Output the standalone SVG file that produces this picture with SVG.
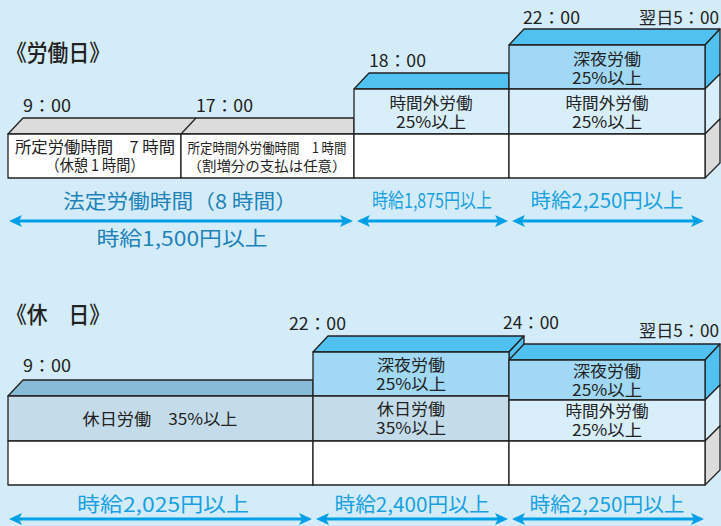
<svg xmlns="http://www.w3.org/2000/svg" width="721" height="526" viewBox="0 0 721 526">
<defs>
<style>
text{font-family:"Noto Sans CJK JP","Noto Sans",sans-serif;fill:#222}
.s{stroke:#222;stroke-width:1.3;stroke-linejoin:round}
.tb{fill:#50c1f0}
.fb{fill:#a0d8f5}
.fl{fill:#d8eefb}
.fw{fill:#fff}
.gr{fill:#dcdcdc}
.ht{fill:#87bad7}
.hf{fill:#c4dce9}
.tm{font-size:17px}
.ttl{font-size:23px;font-weight:500}
.c{text-anchor:middle}
.r{font-size:16px}
.a{stroke:#00a0e9;stroke-width:3;fill:none}
.lb{font-size:20px;fill:#18a0e2}
.ld{font-size:20px;fill:#1f82ba}
</style>
<marker id="ah" viewBox="0 0 13 12" markerWidth="13" markerHeight="12" refX="7" refY="6" markerUnits="userSpaceOnUse" orient="auto-start-reverse">
<path d="M0,0 L13,6 L0,12 L3,6 Z" fill="#00a0e9"/>
</marker>
</defs>
<rect width="721" height="526" fill="#d4ecf9"/>

<g id="title-workday"><text class="ttl" x="6" y="61" textLength="104" lengthAdjust="spacingAndGlyphs">《労働日》</text></g>

<g id="wd-block-0900">
<polygon class="s gr" points="8,134 23,118 354,118 354,134"/>
<line class="s" x1="181" y1="134" x2="196" y2="118"/>
<rect class="s fw" x="8" y="134" width="173" height="44"/>
<text class="c" style="font-size:15.5px"><tspan x="95" y="153" textLength="160" lengthAdjust="spacingAndGlyphs">所定労働時間　7 時間</tspan><tspan x="95" y="171" textLength="99" lengthAdjust="spacingAndGlyphs">（休憩 1 時間）</tspan></text>
<text class="tm" x="23" y="112" textLength="48" lengthAdjust="spacingAndGlyphs">9：00</text>
</g>

<g id="wd-block-1700">
<rect class="s fw" x="181" y="134" width="173" height="44"/>
<text class="c" style="font-size:14px"><tspan x="267" y="153" textLength="159" lengthAdjust="spacingAndGlyphs">所定時間外労働時間　1 時間</tspan><tspan x="267" y="171" textLength="159" lengthAdjust="spacingAndGlyphs">（割増分の支払は任意）</tspan></text>
<text class="tm" x="196" y="112" textLength="57" lengthAdjust="spacingAndGlyphs">17：00</text>
</g>

<g id="wd-block-1800">
<polygon class="s tb" points="354,89 369,73 509,73 509,89"/>
<rect class="s fl" x="354" y="89" width="155" height="45"/>
<rect class="s fw" x="354" y="134" width="155" height="44"/>
<text class="r c"><tspan x="431" y="109" textLength="83" lengthAdjust="spacingAndGlyphs">時間外労働</tspan><tspan x="431" y="128" textLength="70" lengthAdjust="spacingAndGlyphs">25%以上</tspan></text>
<text class="tm" x="369" y="67" textLength="57" lengthAdjust="spacingAndGlyphs">18：00</text>
</g>

<g id="wd-block-2200">
<polygon class="s tb" points="509,45 524,29 720,29 705,45"/>
<polygon class="s tb" points="705,45 720,29 720,74 705,89"/>
<polygon class="s fl" points="705,89 720,74 720,119 705,134"/>
<polygon class="s gr" points="705,134 720,119 720,163 705,178"/>
<rect class="s fb" x="509" y="45" width="196" height="44"/>
<rect class="s fl" x="509" y="89" width="196" height="45"/>
<rect class="s fw" x="509" y="134" width="196" height="44"/>
<text class="r c"><tspan x="607" y="65" textLength="68" lengthAdjust="spacingAndGlyphs">深夜労働</tspan><tspan x="607" y="84" textLength="70" lengthAdjust="spacingAndGlyphs">25%以上</tspan></text>
<text class="r c"><tspan x="607" y="109" textLength="83" lengthAdjust="spacingAndGlyphs">時間外労働</tspan><tspan x="607" y="128" textLength="70" lengthAdjust="spacingAndGlyphs">25%以上</tspan></text>
<text class="tm" x="523" y="24" textLength="57" lengthAdjust="spacingAndGlyphs">22：00</text>
<text class="tm" x="639" y="24" textLength="80" lengthAdjust="spacingAndGlyphs">翌日5：00</text>
</g>

<g id="wd-labels">
<text class="ld c" x="180" y="209" textLength="234" lengthAdjust="spacingAndGlyphs">法定労働時間（8 時間）</text>
<text class="ld c" x="182" y="246" textLength="171" lengthAdjust="spacingAndGlyphs">時給1,500円以上</text>
<text class="lb c" x="432" y="208" textLength="120" lengthAdjust="spacingAndGlyphs">時給1,875円以上</text>
<text class="lb c" x="607" y="208" textLength="153" lengthAdjust="spacingAndGlyphs">時給2,250円以上</text>
</g>

<g id="title-holiday"><text class="ttl" x="6" y="323" textLength="104" lengthAdjust="spacingAndGlyphs">《休　日》</text></g>

<g id="hd-block-0900">
<polygon class="s ht" points="8,396 23,380 313,380 313,396"/>
<rect class="s hf" x="8" y="396" width="305" height="45"/>
<rect class="s fw" x="8" y="441" width="305" height="44"/>
<text class="r c" x="160" y="425" textLength="155" lengthAdjust="spacingAndGlyphs">休日労働　35%以上</text>
<text class="tm" x="23" y="372" textLength="48" lengthAdjust="spacingAndGlyphs">9：00</text>
</g>

<g id="hd-block-2200">
<polygon class="s tb" points="313,352 328,336 524,336 509,352"/>
<polygon class="s tb" points="509,352 524,336 524,470 509,485"/>
<rect class="s fb" x="313" y="352" width="196" height="44"/>
<rect class="s hf" x="313" y="396" width="196" height="45"/>
<rect class="s fw" x="313" y="441" width="196" height="44"/>
<text class="r c"><tspan x="411" y="371" textLength="68" lengthAdjust="spacingAndGlyphs">深夜労働</tspan><tspan x="411" y="390" textLength="70" lengthAdjust="spacingAndGlyphs">25%以上</tspan></text>
<text class="r c"><tspan x="411" y="415" textLength="68" lengthAdjust="spacingAndGlyphs">休日労働</tspan><tspan x="411" y="434" textLength="70" lengthAdjust="spacingAndGlyphs">35%以上</tspan></text>
<text class="tm" x="289" y="330" textLength="57" lengthAdjust="spacingAndGlyphs">22：00</text>
</g>

<g id="hd-block-2400">
<polygon class="s tb" points="509,360 524,344 720,344 705,360"/>
<polygon class="s tb" points="705,360 720,344 720,385 705,400"/>
<polygon class="s fl" points="705,400 720,385 720,426 705,441"/>
<polygon class="s gr" points="705,441 720,426 720,470 705,485"/>
<rect class="s fb" x="509" y="360" width="196" height="40"/>
<rect class="s fl" x="509" y="400" width="196" height="41"/>
<rect class="s fw" x="509" y="441" width="196" height="44"/>
<text class="r c"><tspan x="607" y="377" textLength="68" lengthAdjust="spacingAndGlyphs">深夜労働</tspan><tspan x="607" y="396" textLength="70" lengthAdjust="spacingAndGlyphs">25%以上</tspan></text>
<text class="r c"><tspan x="607" y="417" textLength="83" lengthAdjust="spacingAndGlyphs">時間外労働</tspan><tspan x="607" y="436" textLength="70" lengthAdjust="spacingAndGlyphs">25%以上</tspan></text>
<text class="tm" x="503" y="329" textLength="56" lengthAdjust="spacingAndGlyphs">24：00</text>
<text class="tm" x="639" y="337" textLength="80" lengthAdjust="spacingAndGlyphs">翌日5：00</text>
</g>

<g id="hd-labels">
<text class="lb c" x="163" y="512" textLength="172" lengthAdjust="spacingAndGlyphs">時給2,025円以上</text>
<text class="lb c" x="412" y="512" textLength="155" lengthAdjust="spacingAndGlyphs">時給2,400円以上</text>
<text class="lb c" x="607" y="512" textLength="155" lengthAdjust="spacingAndGlyphs">時給2,250円以上</text>
</g>

<g id="connectors">
<line class="a" x1="15" y1="221" x2="347" y2="221" marker-start="url(#ah)" marker-end="url(#ah)"/>
<line class="a" x1="363" y1="221" x2="502" y2="221" marker-start="url(#ah)" marker-end="url(#ah)"/>
<line class="a" x1="518" y1="221" x2="698" y2="221" marker-start="url(#ah)" marker-end="url(#ah)"/>
<line class="a" x1="15" y1="519" x2="306" y2="519" marker-start="url(#ah)" marker-end="url(#ah)"/>
<line class="a" x1="322" y1="519" x2="502" y2="519" marker-start="url(#ah)" marker-end="url(#ah)"/>
<line class="a" x1="518" y1="519" x2="698" y2="519" marker-start="url(#ah)" marker-end="url(#ah)"/>
</g>
</svg>
